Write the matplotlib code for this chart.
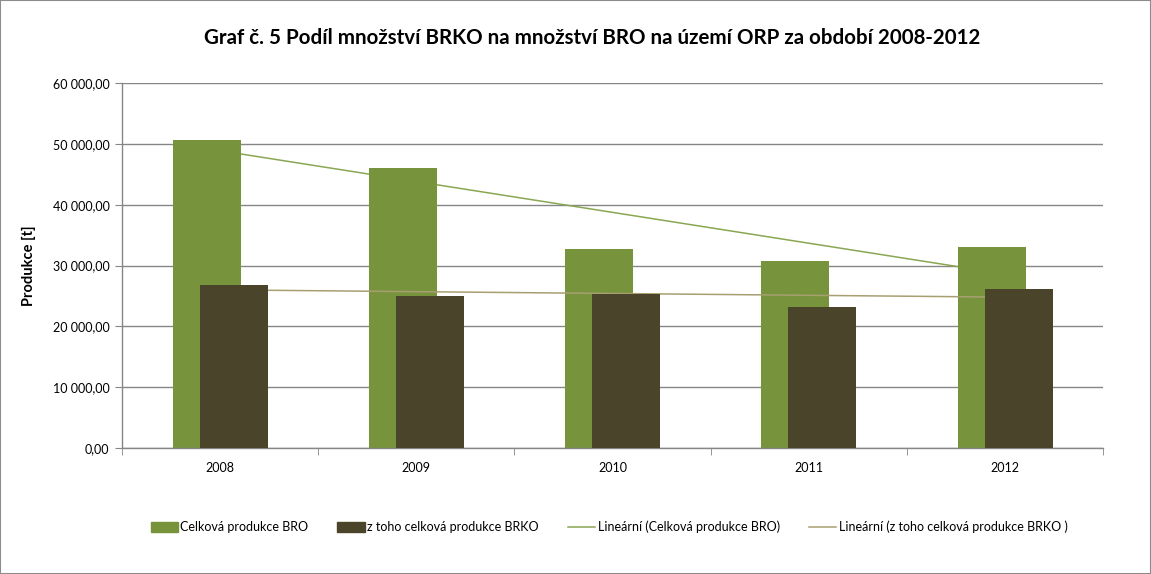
import numpy as np
import matplotlib
matplotlib.use("Agg")
import matplotlib.pyplot as plt
from matplotlib.patches import Patch, Rectangle
from matplotlib.lines import Line2D
from matplotlib.ticker import FuncFormatter, MultipleLocator

plt.rcParams['font.family'] = ['Lato', 'DejaVu Sans']

years = ['2008', '2009', '2010', '2011', '2012']
bro = [50700, 46080, 32760, 30790, 33100]
brko = [26850, 25050, 25300, 23230, 26190]
# trend line end points (first and last category)
trend_bro = [48870, 28600]
trend_brko = [26000, 24800]

green = '#77933C'
dark = '#4A452A'
green_trend = '#8AA652'
dark_trend = '#A79F70'
grid_col = '#868686'

fig = plt.figure(figsize=(11.51, 5.74), dpi=100)
fig.patches.append(Rectangle((0, 0), 1, 1, transform=fig.transFigure,
                             fill=False, edgecolor='#8c8c8c', linewidth=1.5))

ax = fig.add_axes([122 / 1151, 1 - 448 / 574, 981 / 1151, 365 / 574])
x = np.arange(len(years))
w = 0.347
ax.bar(x - 0.068, bro, width=w, color=green, zorder=2)
ax.bar(x + 0.07, brko, width=w, color=dark, zorder=3)

ax.plot([x[0], x[-1]], trend_bro, color=green_trend, lw=1.1, zorder=1.5)
ax.plot([x[0], x[-1]], trend_brko, color=dark_trend, lw=1.1, zorder=2.5)

ax.set_xlim(-0.5, len(years) - 0.5)
ax.set_ylim(0, 60000)
ax.yaxis.set_major_locator(MultipleLocator(10000))


def fmt(v, pos):
    s = '{:,.2f}'.format(v).replace(',', ' ').replace('.', ',')
    return s


ax.yaxis.set_major_formatter(FuncFormatter(fmt))
ax.grid(axis='y', color=grid_col, lw=1, zorder=0)
ax.set_axisbelow(True)
for s in ['top', 'right']:
    ax.spines[s].set_visible(False)
for s in ['left', 'bottom']:
    ax.spines[s].set_color(grid_col)
    ax.spines[s].set_linewidth(1)

ax.set_xticks(x)
ax.set_xticklabels(years)
ax.set_xticks(np.arange(-0.5, len(years)), minor=True)
ax.tick_params(axis='x', which='major', length=0, pad=10, labelsize=9)
ax.tick_params(axis='x', which='minor', length=5, color=grid_col)
ax.tick_params(axis='y', length=5, color=grid_col, labelsize=9, pad=4)

ax.set_ylabel('Produkce [t]', fontsize=10.5, fontweight='bold', labelpad=12)

fig.text(592 / 1151, 1 - 38 / 574,
         'Graf č. 5 Podíl množství BRKO na množství BRO na území ORP za období 2008-2012',
         ha='center', va='center', fontsize=14.8, fontweight='bold')

handles = [Patch(color=green), Patch(color=dark),
           Line2D([], [], color=green_trend, lw=1.1),
           Line2D([], [], color=dark_trend, lw=1.1)]
labels = ['Celková produkce BRO', 'z toho celková produkce BRKO',
          'Lineární (Celková produkce BRO)', 'Lineární (z toho celková produkce BRKO )']
fig.legend(handles, labels, loc='center', bbox_to_anchor=(609 / 1151, 1 - 527 / 574),
           ncol=4, frameon=False, fontsize=9, handlelength=2.2, handleheight=0.8,
           handletextpad=0.2, columnspacing=2.3)

fig.savefig('out.png', dpi=100)
